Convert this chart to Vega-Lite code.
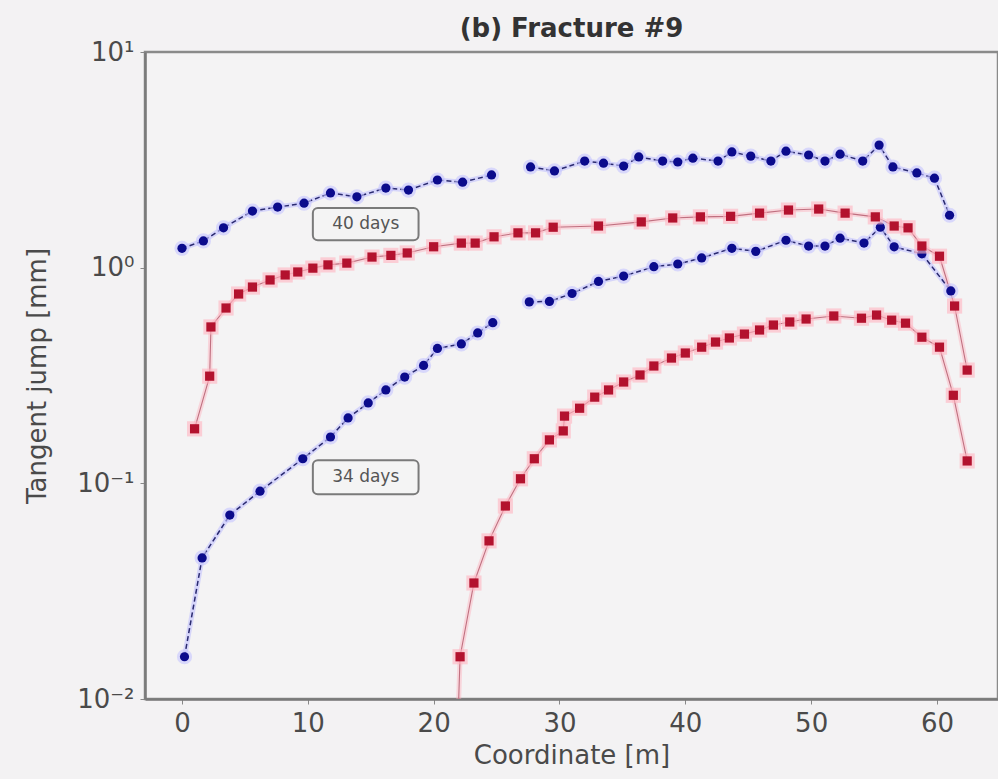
{
  "$schema": "https://vega.github.io/schema/vega-lite/v6.json",
  "autosize": "none",
  "width": 853,
  "height": 647,
  "padding": {"left": 145, "top": 52, "right": 0, "bottom": 80},
  "background": "#f3f2f3",
  "config": {
    "font": "DejaVu Sans",
    "view": {"stroke": "#8a8a8a", "strokeWidth": 2.5, "fill": "#f4f3f4"},
    "axis": {"grid": false}
  },
  "title": {"text": "(b) Fracture #9", "fontSize": 26, "fontWeight": "bold", "color": "#333333", "offset": -3, "anchor": "middle", "frame": "group"},
  "data": {"values": [
    {"s":"bu1","g":"blue","x":0.0,"y":1.23},{"s":"bu1","g":"blue","x":1.7,"y":1.33},{"s":"bu1","g":"blue","x":3.3,"y":1.53},{"s":"bu1","g":"blue","x":5.6,"y":1.83},{"s":"bu1","g":"blue","x":7.6,"y":1.91},{"s":"bu1","g":"blue","x":9.7,"y":1.99},{"s":"bu1","g":"blue","x":11.8,"y":2.22},{"s":"bu1","g":"blue","x":13.9,"y":2.13},{"s":"bu1","g":"blue","x":16.2,"y":2.34},{"s":"bu1","g":"blue","x":18.0,"y":2.29},{"s":"bu1","g":"blue","x":20.3,"y":2.55},{"s":"bu1","g":"blue","x":22.3,"y":2.49},{"s":"bu1","g":"blue","x":24.6,"y":2.69},
    {"s":"bu2","g":"blue","x":27.7,"y":2.93},{"s":"bu2","g":"blue","x":29.6,"y":2.81},{"s":"bu2","g":"blue","x":32.0,"y":3.12},{"s":"bu2","g":"blue","x":33.5,"y":3.05},{"s":"bu2","g":"blue","x":35.1,"y":2.96},{"s":"bu2","g":"blue","x":36.3,"y":3.26},{"s":"bu2","g":"blue","x":38.2,"y":3.12},{"s":"bu2","g":"blue","x":39.4,"y":3.09},{"s":"bu2","g":"blue","x":40.6,"y":3.22},{"s":"bu2","g":"blue","x":42.6,"y":3.12},{"s":"bu2","g":"blue","x":43.7,"y":3.44},{"s":"bu2","g":"blue","x":45.2,"y":3.29},{"s":"bu2","g":"blue","x":46.8,"y":3.12},{"s":"bu2","g":"blue","x":48.0,"y":3.47},{"s":"bu2","g":"blue","x":49.8,"y":3.33},{"s":"bu2","g":"blue","x":51.1,"y":3.12},{"s":"bu2","g":"blue","x":52.3,"y":3.36},{"s":"bu2","g":"blue","x":54.1,"y":3.12},{"s":"bu2","g":"blue","x":55.4,"y":3.70},{"s":"bu2","g":"blue","x":56.5,"y":2.93},{"s":"bu2","g":"blue","x":58.4,"y":2.75},{"s":"bu2","g":"blue","x":59.8,"y":2.60},{"s":"bu2","g":"blue","x":61.0,"y":1.75},
    {"s":"bl1","g":"blue","x":0.2,"y":0.0157},{"s":"bl1","g":"blue","x":1.6,"y":0.0451},{"s":"bl1","g":"blue","x":3.8,"y":0.0713},{"s":"bl1","g":"blue","x":6.2,"y":0.092},{"s":"bl1","g":"blue","x":9.6,"y":0.130},{"s":"bl1","g":"blue","x":11.8,"y":0.164},{"s":"bl1","g":"blue","x":13.2,"y":0.201},{"s":"bl1","g":"blue","x":14.8,"y":0.236},{"s":"bl1","g":"blue","x":16.2,"y":0.271},{"s":"bl1","g":"blue","x":17.7,"y":0.311},{"s":"bl1","g":"blue","x":19.2,"y":0.352},{"s":"bl1","g":"blue","x":20.3,"y":0.422},{"s":"bl1","g":"blue","x":22.2,"y":0.443},{"s":"bl1","g":"blue","x":23.5,"y":0.498},{"s":"bl1","g":"blue","x":24.7,"y":0.556},
    {"s":"bl2","g":"blue","x":27.6,"y":0.694},{"s":"bl2","g":"blue","x":29.2,"y":0.697},{"s":"bl2","g":"blue","x":31.0,"y":0.759},{"s":"bl2","g":"blue","x":33.1,"y":0.863},{"s":"bl2","g":"blue","x":35.1,"y":0.914},{"s":"bl2","g":"blue","x":37.5,"y":1.01},{"s":"bl2","g":"blue","x":39.4,"y":1.04},{"s":"bl2","g":"blue","x":41.3,"y":1.11},{"s":"bl2","g":"blue","x":43.7,"y":1.23},{"s":"bl2","g":"blue","x":45.6,"y":1.19},{"s":"bl2","g":"blue","x":48.0,"y":1.34},{"s":"bl2","g":"blue","x":49.8,"y":1.26},{"s":"bl2","g":"blue","x":51.1,"y":1.26},{"s":"bl2","g":"blue","x":52.3,"y":1.37},{"s":"bl2","g":"blue","x":54.2,"y":1.30},{"s":"bl2","g":"blue","x":55.5,"y":1.54},{"s":"bl2","g":"blue","x":56.6,"y":1.25},{"s":"bl2","g":"blue","x":58.8,"y":1.16},{"s":"bl2","g":"blue","x":61.1,"y":0.78},
    {"s":"ru","g":"red","x":1.0,"y":0.179},{"s":"ru","g":"red","x":2.2,"y":0.314},{"s":"ru","g":"red","x":2.3,"y":0.531},{"s":"ru","g":"red","x":3.5,"y":0.650},{"s":"ru","g":"red","x":4.5,"y":0.755},{"s":"ru","g":"red","x":5.6,"y":0.813},{"s":"ru","g":"red","x":7.0,"y":0.877},{"s":"ru","g":"red","x":8.2,"y":0.925},{"s":"ru","g":"red","x":9.2,"y":0.955},{"s":"ru","g":"red","x":10.4,"y":0.995},{"s":"ru","g":"red","x":11.6,"y":1.03},{"s":"ru","g":"red","x":13.1,"y":1.05},{"s":"ru","g":"red","x":15.1,"y":1.12},{"s":"ru","g":"red","x":16.6,"y":1.14},{"s":"ru","g":"red","x":17.9,"y":1.17},{"s":"ru","g":"red","x":20.0,"y":1.25},{"s":"ru","g":"red","x":22.2,"y":1.30},{"s":"ru","g":"red","x":23.3,"y":1.30},{"s":"ru","g":"red","x":24.8,"y":1.39},{"s":"ru","g":"red","x":26.7,"y":1.45},{"s":"ru","g":"red","x":28.1,"y":1.45},{"s":"ru","g":"red","x":29.5,"y":1.54},{"s":"ru","g":"red","x":33.1,"y":1.56},{"s":"ru","g":"red","x":36.5,"y":1.63},{"s":"ru","g":"red","x":39.0,"y":1.70},{"s":"ru","g":"red","x":41.2,"y":1.72},{"s":"ru","g":"red","x":43.6,"y":1.73},{"s":"ru","g":"red","x":45.9,"y":1.79},{"s":"ru","g":"red","x":48.2,"y":1.85},{"s":"ru","g":"red","x":50.6,"y":1.87},{"s":"ru","g":"red","x":52.7,"y":1.79},{"s":"ru","g":"red","x":55.1,"y":1.72},{"s":"ru","g":"red","x":56.6,"y":1.56},{"s":"ru","g":"red","x":57.7,"y":1.53},{"s":"ru","g":"red","x":58.8,"y":1.26},{"s":"ru","g":"red","x":60.2,"y":1.13},{"s":"ru","g":"red","x":61.4,"y":0.664},{"s":"ru","g":"red","x":62.4,"y":0.335},
    {"s":"rl","g":"red","x":21.6,"y":0.002},{"s":"rl","g":"red","x":22.1,"y":0.0157},{"s":"rl","g":"red","x":23.2,"y":0.0345},{"s":"rl","g":"red","x":24.4,"y":0.0541},{"s":"rl","g":"red","x":25.7,"y":0.0785},{"s":"rl","g":"red","x":26.9,"y":0.105},{"s":"rl","g":"red","x":28.0,"y":0.130},{"s":"rl","g":"red","x":29.2,"y":0.159},{"s":"rl","g":"red","x":30.3,"y":0.175},{"s":"rl","g":"red","x":30.4,"y":0.205},{"s":"rl","g":"red","x":31.6,"y":0.223},{"s":"rl","g":"red","x":32.8,"y":0.251},{"s":"rl","g":"red","x":33.9,"y":0.271},{"s":"rl","g":"red","x":35.1,"y":0.295},{"s":"rl","g":"red","x":36.4,"y":0.318},{"s":"rl","g":"red","x":37.5,"y":0.350},{"s":"rl","g":"red","x":38.9,"y":0.381},{"s":"rl","g":"red","x":40.0,"y":0.402},{"s":"rl","g":"red","x":41.3,"y":0.428},{"s":"rl","g":"red","x":42.4,"y":0.452},{"s":"rl","g":"red","x":43.5,"y":0.472},{"s":"rl","g":"red","x":44.7,"y":0.492},{"s":"rl","g":"red","x":45.9,"y":0.514},{"s":"rl","g":"red","x":47.0,"y":0.542},{"s":"rl","g":"red","x":48.3,"y":0.560},{"s":"rl","g":"red","x":49.6,"y":0.578},{"s":"rl","g":"red","x":51.8,"y":0.597},{"s":"rl","g":"red","x":54.0,"y":0.583},{"s":"rl","g":"red","x":55.2,"y":0.603},{"s":"rl","g":"red","x":56.4,"y":0.571},{"s":"rl","g":"red","x":57.5,"y":0.553},{"s":"rl","g":"red","x":58.8,"y":0.476},{"s":"rl","g":"red","x":60.2,"y":0.428},{"s":"rl","g":"red","x":61.3,"y":0.256},{"s":"rl","g":"red","x":62.4,"y":0.127}
  ]},
  "encoding": {
    "x": {"field": "x", "type": "quantitative",
      "scale": {"domain": [-2.94, 64.85], "nice": false, "zero": false},
      "axis": {"values": [0,10,20,30,40,50,60], "title": "Coordinate [m]", "labelFontSize": 26, "labelColor": "#4a4a4a", "titleFontSize": 26, "titleFontWeight": "normal", "titleColor": "#4a4a4a", "domainColor": "#7a7a7a", "domainWidth": 2.5, "tickColor": "#888888", "tickSize": 5, "labelPadding": 6, "titlePadding": 6, "labelFlush": false}},
    "y": {"field": "y", "type": "quantitative",
      "scale": {"type": "log", "domain": [0.01, 10], "nice": false},
      "axis": {"values": [0.01, 0.1, 1, 10], "labelExpr": "datum.value < 0.05 ? '10⁻²' : datum.value < 0.5 ? '10⁻¹' : datum.value < 5 ? '10⁰' : '10¹'", "title": "Tangent jump [mm]", "labelFontSize": 26, "labelColor": "#4a4a4a", "titleFontSize": 26, "titleFontWeight": "normal", "titleColor": "#4a4a4a", "domainColor": "#7a7a7a", "domainWidth": 2.5, "tickColor": "#888888", "tickSize": 5, "labelPadding": 6, "titlePadding": 26, "labelFlush": false}}
  },
  "layer": [
    {"transform": [{"filter": "datum.g == 'blue'"}], "mark": {"type": "line", "strokeWidth": 5, "color": "#b8b8ff", "opacity": 0.5, "clip": true}, "encoding": {"detail": {"field": "s"}}},
    {"transform": [{"filter": "datum.g == 'blue'"}], "mark": {"type": "line", "strokeWidth": 1.5, "color": "#2a2a70", "strokeDash": [5, 3], "clip": true}, "encoding": {"detail": {"field": "s"}}},
    {"transform": [{"filter": "datum.g == 'red'"}], "mark": {"type": "line", "strokeWidth": 5, "color": "#ffa8b6", "opacity": 0.4, "clip": true}, "encoding": {"detail": {"field": "s"}}},
    {"transform": [{"filter": "datum.g == 'red'"}], "mark": {"type": "line", "strokeWidth": 1.1, "color": "#c07080", "clip": true}, "encoding": {"detail": {"field": "s"}}},
    {"transform": [{"filter": "datum.g == 'blue'"}], "mark": {"type": "point", "shape": "circle", "filled": true, "size": 230, "color": "#c4c4ff", "opacity": 0.6, "clip": true}},
    {"transform": [{"filter": "datum.g == 'blue'"}], "mark": {"type": "point", "shape": "circle", "filled": true, "size": 85, "color": "#0b0b8c", "opacity": 1, "clip": true}},
    {"transform": [{"filter": "datum.g == 'red'"}], "mark": {"type": "point", "shape": "square", "filled": true, "size": 230, "color": "#ffb4c0", "opacity": 0.6, "clip": true}},
    {"transform": [{"filter": "datum.g == 'red'"}], "mark": {"type": "point", "shape": "square", "filled": true, "size": 85, "color": "#b3122e", "opacity": 1, "clip": true}},
    {"data": {"values": [{"label": "40 days", "x": 10.4, "x2": 18.8, "y": 1.34, "y2": 1.89}, {"label": "34 days", "x": 10.4, "x2": 18.8, "y": 0.0891, "y2": 0.128}]},
     "mark": {"type": "rect", "fill": "#f4f4f4", "stroke": "#7a7a7a", "strokeWidth": 2, "cornerRadius": 5},
     "encoding": {"x": {"field": "x", "type": "quantitative"}, "x2": {"field": "x2"}, "y": {"field": "y", "type": "quantitative"}, "y2": {"field": "y2"}}},
    {"data": {"values": [{"label": "40 days", "cx": 14.6, "cy": 1.59}, {"label": "34 days", "cx": 14.6, "cy": 0.107}]},
     "mark": {"type": "text", "fontSize": 17, "color": "#555555", "align": "center", "baseline": "middle"},
     "encoding": {"x": {"field": "cx", "type": "quantitative"}, "y": {"field": "cy", "type": "quantitative"}, "text": {"field": "label"}}}
  ]
}
